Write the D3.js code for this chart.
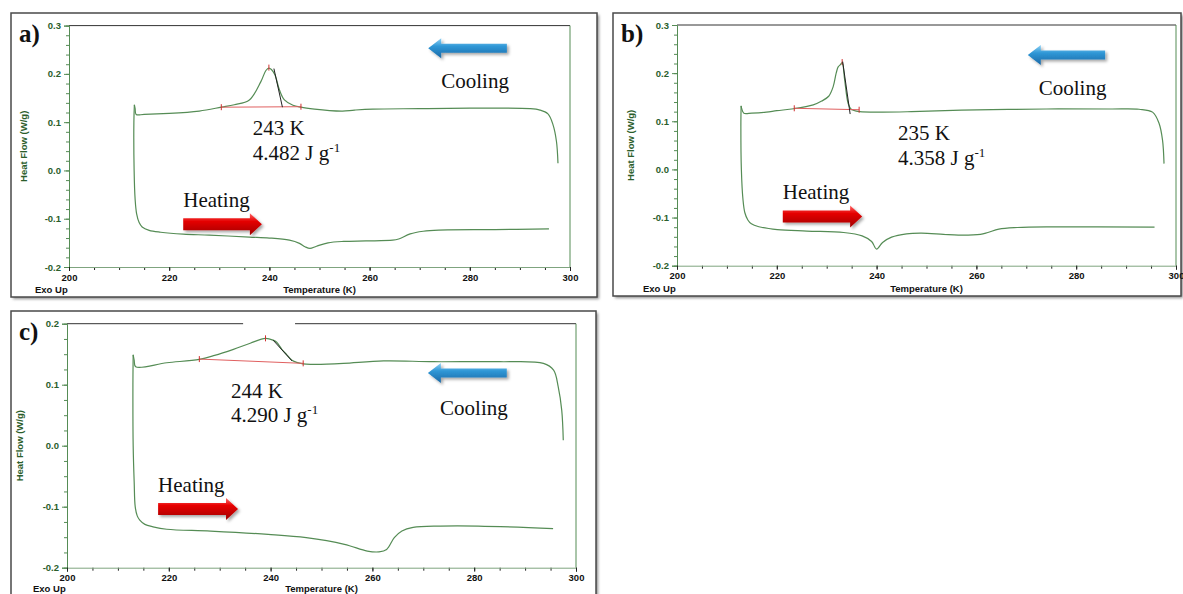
<!DOCTYPE html>
<html>
<head>
<meta charset="utf-8">
<script src="https://cdn.jsdelivr.net/npm/d3@7"></script>
<style>
  body { margin: 0; background: #fff; }
  svg { display: block; }
</style>
</head>
<body>
<svg id="chart" width="1183" height="594"></svg>
<script>
// ---- data: [temperature K, heat flow W/g] ----
const coolingA = [[297.6, 0.015], [297.3, 0.06], [296.6, 0.095], [295.6, 0.117], [294.0, 0.125],
  [292, 0.128], [280, 0.129], [270, 0.128], [260.6, 0.127], [257, 0.125], [254.6, 0.123],
  [252, 0.124], [249, 0.127], [246.3, 0.131], [244.7, 0.135], [243, 0.146], [242, 0.167],
  [241.1, 0.198], [240.4, 0.209], [239.9, 0.212], [239.3, 0.207], [238.3, 0.184], [236, 0.146],
  [233, 0.136], [230.4, 0.131], [226, 0.123], [220, 0.118], [215, 0.116], [213.4, 0.116],
  [213.2, 0.128], [213.05, 0.136]];
const heatingA = [[213.05, 0.136], [212.95, 0.10], [213.0, 0.0], [213.2, -0.06], [213.5, -0.09],
  [214.0, -0.108], [214.6, -0.117], [216, -0.124], [218.3, -0.128], [222.8, -0.132], [228, -0.134],
  [236, -0.138], [240, -0.140], [244, -0.1445], [246, -0.151], [247.1, -0.158], [248.1, -0.1616],
  [249.4, -0.157], [251.7, -0.150], [254.8, -0.147], [259.3, -0.146], [264.6, -0.1445],
  [265.8, -0.142], [268.1, -0.1315], [270.7, -0.126], [273.8, -0.1235], [285, -0.1225], [295.8, -0.1212]];

const coolingB = [[297.6, 0.012], [297.3, 0.061], [296.6, 0.096], [295.3, 0.119], [292.6, 0.125],
  [287, 0.1255], [274, 0.1255], [257, 0.123], [247, 0.12], [241, 0.119], [236.6, 0.12],
  [235.3, 0.123], [234.9, 0.125], [234.3, 0.137], [233.6, 0.186], [233.1, 0.222], [232.7, 0.217],
  [232.3, 0.213], [231.9, 0.20], [231.3, 0.172], [230.4, 0.152], [229, 0.142], [227.3, 0.134],
  [223.4, 0.126], [220, 0.122], [217.9, 0.119], [215, 0.117], [213.4, 0.1166], [213.0, 0.125],
  [212.85, 0.132]];
const heatingB = [[212.85, 0.132], [212.8, 0.09], [212.9, 0.0], [213.2, -0.06], [213.6, -0.09],
  [214.2, -0.105], [214.9, -0.113], [216.4, -0.119], [220.1, -0.125], [226, -0.128], [233.4, -0.131],
  [237.1, -0.138], [239, -0.1497], [240, -0.1655], [241.2, -0.1517], [243, -0.1407], [246, -0.1338],
  [249, -0.1324], [253.4, -0.135], [256.4, -0.1366], [260.8, -0.135], [262.3, -0.131],
  [264.5, -0.124], [268.2, -0.1207], [274.1, -0.1193], [295.7, -0.12]];

const coolingC = [[297.5, 0.009], [297.2, 0.058], [296.5, 0.097], [295.6, 0.124], [293.6, 0.135],
  [285, 0.1377], [272, 0.1377], [262.2, 0.139], [254.3, 0.135], [249, 0.1334], [246.4, 0.134],
  [244.2, 0.140], [243.2, 0.149], [242.2, 0.158], [241.2, 0.1695], [240.5, 0.173], [239, 0.176],
  [236, 0.168], [232.7, 0.158], [229, 0.148], [226, 0.1416], [219.6, 0.136], [213.5, 0.1295],
  [213.2, 0.140], [213.0, 0.149]];
const heatingC = [[213.0, 0.149], [212.95, 0.10], [213.0, 0.0], [213.2, -0.06], [213.4, -0.1],
  [213.8, -0.115], [214.3, -0.122], [215.3, -0.129], [216.9, -0.133], [219.6, -0.137],
  [228.2, -0.140], [239.5, -0.1454], [247, -0.1508], [254.5, -0.1617], [259, -0.1727],
  [261.3, -0.174], [262.8, -0.17], [264.3, -0.1508], [265.8, -0.14], [268, -0.134],
  [273.3, -0.1317], [280.8, -0.1317], [295.5, -0.136]];

// integration baselines, peak markers, tangent lines
const baselineA = [[230.4, 0.131], [246.3, 0.132]];
const peakA = [239.9, 0.213];
const tangentA = [[240.9, 0.211], [242.6, 0.131]];
const baselineB = [[223.5, 0.127], [236.5, 0.124]];
const peakB = [233.1, 0.223];
const tangentB = [[233.2, 0.224], [234.7, 0.115]];
const baselineC = [[226, 0.142], [246.4, 0.135]];
const peakC = [239, 0.176];
const tangentC = [[240.5, 0.173], [244.2, 0.139]];

// annotation texts
const panelLabels = ['a)', 'b)', 'c)'];
const peakTemps = ['243 K', '235 K', '244 K'];
const enthalpies = ['4.482', '4.358', '4.290'];

// axes
const xMajor = [200, 220, 240, 260, 280, 300];
const xMinor = d3.range(200, 301, 5);
const yMajorAB = [-0.2, -0.1, 0, 0.1, 0.2, 0.3];
const yMajorC = [-0.2, -0.1, 0, 0.1, 0.2];

const svg = d3.select('#chart');
const defs = svg.append('defs');

defs.append('filter').attr('id', 'blur')
  .append('feGaussianBlur').attr('stdDeviation', 1.5);

const shadow = defs.append('filter').attr('id', 'arrowShadow')
  .attr('x', '-20%').attr('y', '-40%').attr('width', '150%').attr('height', '200%');
shadow.append('feDropShadow').attr('dx', 2).attr('dy', 2).attr('stdDeviation', 1.5)
  .attr('flood-color', '#000').attr('flood-opacity', 0.35);

function gradient(id, stops) {
  const lg = defs.append('linearGradient').attr('id', id)
    .attr('x1', 0).attr('y1', 0).attr('x2', 0).attr('y2', 1);
  stops.forEach(([o, c]) => lg.append('stop').attr('offset', o).attr('stop-color', c));
}
gradient('redGrad', [[0, '#ff6a6a'], [0.35, '#e60000'], [1, '#a00000']]);
gradient('blueGrad', [[0, '#8fd2f5'], [0.4, '#2f97d6'], [1, '#1a68a6']]);

const serif = '"Liberation Serif", "Times New Roman", serif';
const sans = 'Arial, "Liberation Sans", sans-serif';
const green = '#558c55';
const darkGreen = '#2b5e2b';

function arrow(g, x0, x1, cy, shaft, head, headLen, fill) {
  // x0 = tail, x1 = tip
  const dir = x1 > x0 ? 1 : -1;
  const hb = x1 - dir * headLen;
  const pts = [[x0, cy - shaft / 2], [hb, cy - shaft / 2], [hb, cy - head / 2], [x1, cy],
    [hb, cy + head / 2], [hb, cy + shaft / 2], [x0, cy + shaft / 2]];
  g.append('polygon').attr('points', pts.map((p) => p.join(',')).join(' '))
    .attr('fill', fill).attr('filter', 'url(#arrowShadow)');
}

function drawPanel(p, i) {
  const g = svg.append('g');
  const [fx, fy, fw, fh] = p.frame;

  // frame with soft shadow
  g.append('rect').attr('x', fx + 2).attr('y', fy + 2).attr('width', fw).attr('height', fh)
    .attr('fill', '#8c8c8c').attr('filter', 'url(#blur)');
  g.append('rect').attr('x', fx).attr('y', fy).attr('width', fw).attr('height', fh)
    .attr('fill', '#fff').attr('stroke', '#4a4a4a').attr('stroke-width', 1.5);

  const x = d3.scaleLinear().domain([200, 300]).range([p.plot.x0, p.plot.x1]);
  const y = d3.scaleLinear().domain(p.yDomain).range([p.plot.y1, p.plot.y0]);

  // plot border: dark top, green right
  p.topSegments.forEach(([a, b]) => {
    g.append('line').attr('x1', x(a)).attr('x2', x(b)).attr('y1', y.range()[1]).attr('y2', y.range()[1])
      .attr('stroke', '#333').attr('stroke-width', 1);
  });
  g.append('line').attr('x1', x(300)).attr('x2', x(300)).attr('y1', y.range()[1]).attr('y2', y.range()[0])
    .attr('stroke', green).attr('stroke-width', 1);

  // y axis
  const yMinor = d3.range(p.yDomain[0], p.yDomain[1] + 1e-9, p.yMinorStep);
  const yMin = g.append('g').attr('transform', `translate(${x(200)},0)`)
    .call(d3.axisLeft(y).tickValues(yMinor).tickSize(3).tickFormat(''));
  yMin.select('.domain').remove();
  yMin.selectAll('line').attr('stroke', green);
  const yAx = g.append('g').attr('transform', `translate(${x(200)},0)`)
    .call(d3.axisLeft(y).tickValues(p.yMajor).tickSize(5).tickPadding(3).tickFormat((d) => d.toFixed(1)));
  yAx.select('.domain').attr('stroke', green);
  yAx.selectAll('line').attr('stroke', green);
  yAx.selectAll('text').attr('fill', darkGreen).attr('font-family', sans)
    .attr('font-size', 9.5).attr('font-weight', 'bold');

  // x axis
  const xMin = g.append('g').attr('transform', `translate(0,${y.range()[0]})`)
    .call(d3.axisBottom(x).tickValues(xMinor).tickSize(3).tickFormat(''));
  xMin.select('.domain').remove();
  xMin.selectAll('line').attr('stroke', '#222');
  const xAx = g.append('g').attr('transform', `translate(0,${y.range()[0]})`)
    .call(d3.axisBottom(x).tickValues(xMajor).tickSize(4).tickPadding(3));
  xAx.select('.domain').attr('stroke', '#7fa47f');
  xAx.selectAll('line').attr('stroke', '#222');
  xAx.selectAll('text').attr('fill', '#111').attr('font-family', sans)
    .attr('font-size', 9.5).attr('font-weight', 'bold');

  // axis titles
  const yMid = (y.range()[0] + y.range()[1]) / 2;
  g.append('text').attr('transform', `translate(${p.yTitleX},${yMid}) rotate(-90)`)
    .attr('text-anchor', 'middle').attr('font-family', sans).attr('font-size', 9.5)
    .attr('font-weight', 'bold').attr('fill', darkGreen).text('Heat Flow (W/g)');
  g.append('text').attr('x', (x(200) + x(300)) / 2).attr('y', p.xTitleY)
    .attr('text-anchor', 'middle').attr('font-family', sans).attr('font-size', 9.5)
    .attr('font-weight', 'bold').attr('fill', '#111').text('Temperature (K)');
  g.append('text').attr('x', x(200) - 34).attr('y', p.xTitleY)
    .attr('font-family', sans).attr('font-size', 9.5)
    .attr('font-weight', 'bold').attr('fill', '#111').text('Exo Up');

  // panel letter
  g.append('text').attr('x', fx + 8).attr('y', fy + 29).attr('font-family', serif)
    .attr('font-size', 25).attr('font-weight', 'bold').attr('fill', '#111').text(panelLabels[i]);

  // traces
  const line = d3.line().x((d) => x(d[0])).y((d) => y(d[1])).curve(d3.curveCatmullRom.alpha(0.5));
  [p.cooling, p.heating].forEach((s) => {
    g.append('path').datum(s).attr('d', line).attr('fill', 'none')
      .attr('stroke', green).attr('stroke-width', 1.2);
  });

  // integration marks
  g.append('path').datum(p.baseline).attr('d', d3.line().x((d) => x(d[0])).y((d) => y(d[1])))
    .attr('stroke', '#e06060').attr('stroke-width', 1).attr('fill', 'none');
  p.baseline.forEach((d) => {
    g.append('line').attr('x1', x(d[0])).attr('x2', x(d[0])).attr('y1', y(d[1]) - 3).attr('y2', y(d[1]) + 3)
      .attr('stroke', '#d03030').attr('stroke-width', 1);
  });
  g.append('line').attr('x1', x(p.peak[0])).attr('x2', x(p.peak[0]))
    .attr('y1', y(p.peak[1]) - 3).attr('y2', y(p.peak[1]) + 3)
    .attr('stroke', '#d03030').attr('stroke-width', 1);
  g.append('path').datum(p.tangent).attr('d', d3.line().x((d) => x(d[0])).y((d) => y(d[1])))
    .attr('stroke', '#222').attr('stroke-width', 1).attr('fill', 'none');

  // texts
  const t1 = g.append('text').attr('font-family', serif).attr('font-size', 21).attr('fill', '#111');
  t1.append('tspan').attr('x', x(p.valuePos[0])).attr('y', y(p.valuePos[1])).text(peakTemps[i]);
  const t2 = g.append('text').attr('font-family', serif).attr('font-size', 21).attr('fill', '#111')
    .attr('x', x(p.valuePos[0])).attr('y', y(p.valuePos[2]));
  t2.append('tspan').text(`${enthalpies[i]} J g`);
  t2.append('tspan').attr('font-size', 13).attr('dy', -8).text('-1');

  g.append('text').attr('x', x(p.coolText[0])).attr('y', y(p.coolText[1]))
    .attr('font-family', serif).attr('font-size', 21).attr('fill', '#111').text('Cooling');
  g.append('text').attr('x', x(p.heatText[0])).attr('y', y(p.heatText[1]))
    .attr('font-family', serif).attr('font-size', 21).attr('fill', '#111').text('Heating');

  arrow(g, x(p.coolArrow[1]), x(p.coolArrow[0]), y(p.coolArrow[2]), 9, 20, 13, 'url(#blueGrad)');
  arrow(g, x(p.heatArrow[0]), x(p.heatArrow[1]), y(p.heatArrow[2]), 12, 22, 12, 'url(#redGrad)');
}

const panels = [
  {
    frame: [11, 13, 586, 284],
    plot: { x0: 69, x1: 570, y0: 25.6, y1: 267 },
    yDomain: [-0.2, 0.3], yMajor: yMajorAB, yMinorStep: 0.02,
    yTitleX: 27, xTitleY: 293, topSegments: [[200, 300]],
    cooling: coolingA, heating: heatingA, baseline: baselineA, peak: peakA, tangent: tangentA,
    valuePos: [236.7, 0.0734, 0.0216],
    coolText: [274.3, 0.171], heatText: [222.8, -0.0757],
    coolArrow: [271.7, 287.4, 0.253], heatArrow: [222.8, 238.5, -0.1116],
  },
  {
    frame: [613, 13, 568, 283],
    plot: { x0: 677, x1: 1176, y0: 25, y1: 265.7 },
    yDomain: [-0.2, 0.3], yMajor: yMajorAB, yMinorStep: 0.02,
    yTitleX: 634, xTitleY: 292, topSegments: [[200, 300]],
    cooling: coolingB, heating: heatingB, baseline: baselineB, peak: peakB, tangent: tangentB,
    valuePos: [244.3, 0.0611, 0.0092],
    coolText: [272.5, 0.1546], heatText: [221.2, -0.0614],
    coolArrow: [270.3, 285.8, 0.2377], heatArrow: [221.2, 237.1, -0.098],
  },
  {
    frame: [11, 311, 585, 292],
    plot: { x0: 67, x1: 576, y0: 323.7, y1: 567.7 },
    yDomain: [-0.2, 0.2], yMajor: yMajorC, yMinorStep: 0.025,
    yTitleX: 23, xTitleY: 592, topSegments: [[200, 234.6], [244.8, 300]],
    cooling: coolingC, heating: heatingC, baseline: baselineC, peak: peakC, tangent: tangentC,
    valuePos: [232.2, 0.0782, 0.0393],
    coolText: [273.3, 0.0503], heatText: [217.9, -0.0754],
    coolArrow: [270.9, 286.4, 0.1192], heatArrow: [217.9, 233.6, -0.1038],
  },
];

panels.forEach(drawPanel);
</script>
</body>
</html>
